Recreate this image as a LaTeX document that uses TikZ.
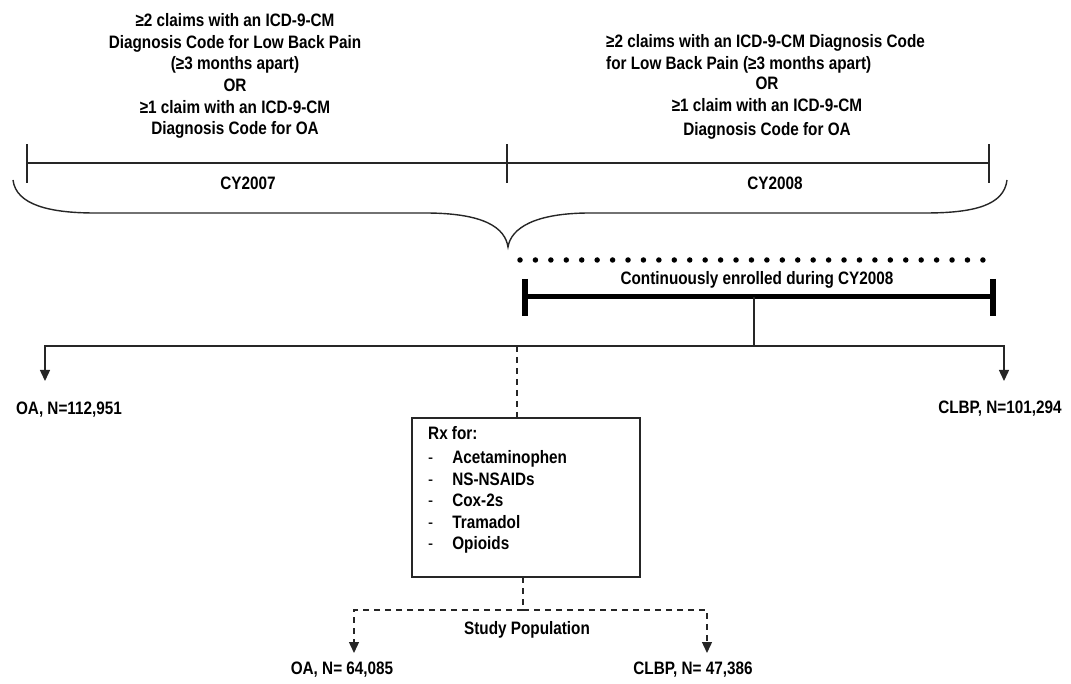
\documentclass[tikz,border=0pt]{standalone}
\usepackage{fontspec}
\setmainfont{Liberation Sans}[FakeStretch=0.85]
\usetikzlibrary{arrows.meta}
\begin{document}
\begin{tikzpicture}[x=1pt,y=-1pt,
  txt/.style={font=\fontsize{18}{21.6}\selectfont\bfseries, inner sep=0pt, align=center},
  thin/.style={line width=1.4pt, black!85},
  dsh/.style={line width=1.4pt, black!85, dash pattern=on 6pt off 5pt},
  tip/.style={-{Triangle[width=10pt,length=11pt]}},
  brace/.style={line width=1.4pt, black!85}]
\useasboundingbox (0,0) rectangle (1071,684);

% top texts
\node[txt] (critL) at (235,76) {≥2 claims with an ICD-9-CM\\Diagnosis Code for Low Back Pain\\(≥3 months apart)\\OR\\≥1 claim with an ICD-9-CM\\Diagnosis Code for OA};
\node[txt, align=left, anchor=west] (critRa) at (606,54) {≥2 claims with an ICD-9-CM Diagnosis Code\\for Low Back Pain (≥3 months apart)};
\node[txt, align=center] (critRb) at (767,108) {OR\\[1pt]≥1 claim with an ICD-9-CM\\[2pt]Diagnosis Code for OA};

% timeline
\coordinate (t0) at (27,163);
\coordinate (t1) at (507,163);
\coordinate (t2) at (989,163);
\draw[thin] (t0) -- (t2);
\foreach \p in {t0,t1,t2} \draw[thin] ([yshift=-20pt]\p) -- ([yshift=19pt]\p);
\node[txt] (cy7) at (248,183) {CY2007};
\node[txt] (cy8) at (775,183) {CY2008};

% brace
\coordinate (bL) at (13,180);
\coordinate (bT) at (508,247);
\coordinate (bR) at (1007,180);
\draw[brace] (bL) .. controls (16,205) and (50,213) .. (95,213) -- (425,213)
  .. controls (485,213) and (505,228) .. (bT)
  .. controls (511,228) and (535,213) .. (590,213) -- (925,213)
  .. controls (975,213) and (1004,205) .. (bR);

% dotted line
\coordinate (d0) at (520,260);
\coordinate (d1) at (983,260);
\draw[line width=5.5pt, line cap=round, dash pattern=on 0pt off 15.43pt] (d0) -- (d1);

% enrolment bar
\node[txt] (enr) at (757,280) {Continuously enrolled during CY2008};
\coordinate (e0) at (525,297);
\coordinate (e1) at (993,297);
\draw[line width=5pt] (e0) -- (e1);
\draw[line width=6pt] (525,279) -- (525,316);
\draw[line width=6pt] (993,279) -- (993,316);
\coordinate (em) at (754,297);

% branch
\coordinate (jn) at (754,346);
\coordinate (bl) at (45,346);
\coordinate (br) at (1004,346);
\coordinate (tipL) at (45,381);
\coordinate (tipR) at (1004,381);
\draw[thin] (em) -- (jn);
\draw[thin, tip] (jn) -- (bl) -- (tipL);
\draw[thin, tip] (jn) -- (br) -- (tipR);
\node[txt] (oa1) at (69,410) {OA, N=112,951};
\node[txt] (clbp1) at (1000,409) {CLBP, N=101,294};

% Rx box
\node[draw, line width=1.8pt, black!85, minimum width=228pt, minimum height=159pt, inner sep=0pt] (rx) at (526,497.5) {};
\node[anchor=north west, inner sep=0pt, font=\fontsize{18}{21.5}\selectfont\bfseries] (rxt) at (428,424)
  {\begin{tabular}{@{}l@{\hspace{19pt}}l@{}}\multicolumn{2}{@{}l}{Rx for:}\\[3pt]
   \mdseries - & Acetaminophen\\ \mdseries - & NS-NSAIDs\\ \mdseries - & Cox-2s\\ \mdseries - & Tramadol\\ \mdseries - & Opioids\end{tabular}};

\coordinate (dj) at (517,346);
\draw[dsh] (dj) -- (dj |- rx.north);
\coordinate (sb) at (523,577);
\coordinate (sj) at (523,610);
\coordinate (sl) at (354,610);
\coordinate (sr) at (707,610);
\coordinate (tipSL) at (354,653);
\coordinate (tipSR) at (707,653);
\draw[dsh] (sb) -- (sj);
\draw[dsh, tip] (sj) -- (sl) -- (tipSL);
\draw[dsh, tip] (sj) -- (sr) -- (tipSR);
\node[txt] (sp) at (527,630) {Study Population};
\node[txt] (oa2) at (342,670) {OA, N= 64,085};
\node[txt] (clbp2) at (693,670) {CLBP, N= 47,386};
\end{tikzpicture}
\end{document}
